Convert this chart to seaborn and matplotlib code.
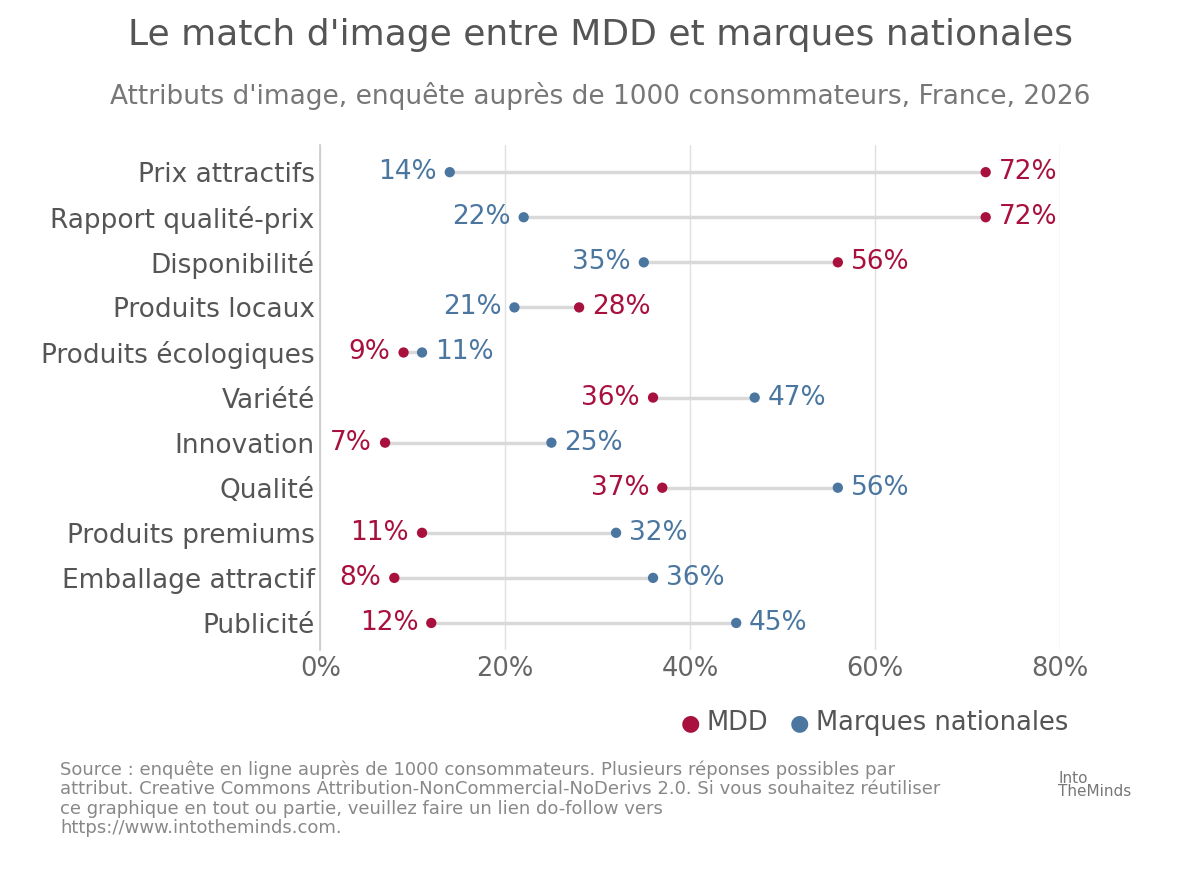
import numpy as np
import pandas as pd
import matplotlib.pyplot as plt
import seaborn as sns

ATTRIBUTES = ["Prix attractifs", "Rapport qualité-prix", "Disponibilité", "Produits locaux",
              "Produits écologiques", "Variété", "Innovation", "Qualité",
              "Produits premiums", "Emballage attractif", "Publicité"]
MDD = [72, 72, 56, 28, 9, 36, 7, 37, 11, 8, 12]
MARQUES = [14, 22, 35, 21, 11, 47, 25, 56, 32, 36, 45]

RED = "#a8103e"
BLUE = "#4a76a0"
GREY = "#555555"

sns.set_theme(style="white")
plt.rcParams["font.family"] = ["DejaVu Sans"]

df = pd.DataFrame({
    "attr": ATTRIBUTES * 2,
    "value": MDD + MARQUES,
    "serie": ["MDD"] * len(MDD) + ["Marques nationales"] * len(MARQUES),
})

fig = plt.figure(figsize=(12, 8.69), dpi=100)
ax = fig.add_axes([0.267, 0.252, 0.616, 0.581])

ypos = np.arange(len(ATTRIBUTES))
ax.hlines(ypos, np.minimum(MDD, MARQUES), np.maximum(MDD, MARQUES), color="#d9d9d9", lw=2.5, zorder=1)
sns.scatterplot(data=df, x="value", y="attr", hue="serie", palette={"MDD": RED, "Marques nationales": BLUE},
                s=55, edgecolor="none", ax=ax, zorder=3, legend=False)

for i, (a, b) in enumerate(zip(MDD, MARQUES)):
    lo_c, hi_c = (RED, BLUE) if a < b else (BLUE, RED)
    lo, hi = min(a, b), max(a, b)
    ax.text(lo - 1.4, i, f"{lo}%", color=lo_c, fontsize=19, ha="right", va="center")
    ax.text(hi + 1.4, i, f"{hi}%", color=hi_c, fontsize=19, ha="left", va="center")

ax.set_xlim(0, 80)
ax.set_ylim(len(ATTRIBUTES) - 0.4, -0.6)
ax.set_xticks([0, 20, 40, 60, 80])
ax.set_xticklabels([f"{v}%" for v in [0, 20, 40, 60, 80]], fontsize=18.5, color="#666666")
ax.set_yticks(ypos)
ax.set_yticklabels(ATTRIBUTES, fontsize=19, color=GREY)
ax.tick_params(axis="both", length=0, pad=4)
ax.grid(axis="x", color="#e0e0e0", lw=1)
ax.set_xlabel("")
ax.set_ylabel("")
for s in ["top", "right", "bottom"]:
    ax.spines[s].set_visible(False)
ax.spines["left"].set_color("#cccccc")

fig.text(0.5, 0.96, "Le match d'image entre MDD et marques nationales", ha="center", va="center",
         fontsize=26, color=GREY)
fig.text(0.5, 0.89, "Attributs d'image, enquête auprès de 1000 consommateurs, France, 2026", ha="center",
         va="center", fontsize=19, color="#777777")

fig.text(0.575, 0.168, "●", color=RED, fontsize=16, va="center", ha="center")
fig.text(0.589, 0.168, "MDD", color=GREY, fontsize=18.5, va="center")
fig.text(0.666, 0.168, "●", color=BLUE, fontsize=16, va="center", ha="center")
fig.text(0.680, 0.168, "Marques nationales", color=GREY, fontsize=18.5, va="center")

fig.text(0.05, 0.125,
         "Source : enquête en ligne auprès de 1000 consommateurs. Plusieurs réponses possibles par\n"
         "attribut. Creative Commons Attribution-NonCommercial-NoDerivs 2.0. Si vous souhaitez réutiliser\n"
         "ce graphique en tout ou partie, veuillez faire un lien do-follow vers\n"
         "https://www.intotheminds.com.",
         fontsize=13, color="#888888", va="top", linespacing=1.1)
fig.text(0.882, 0.08, "Into\nTheMinds", fontsize=11, color="#777777", va="bottom", linespacing=0.9)

fig.savefig("out.png", dpi=100)
